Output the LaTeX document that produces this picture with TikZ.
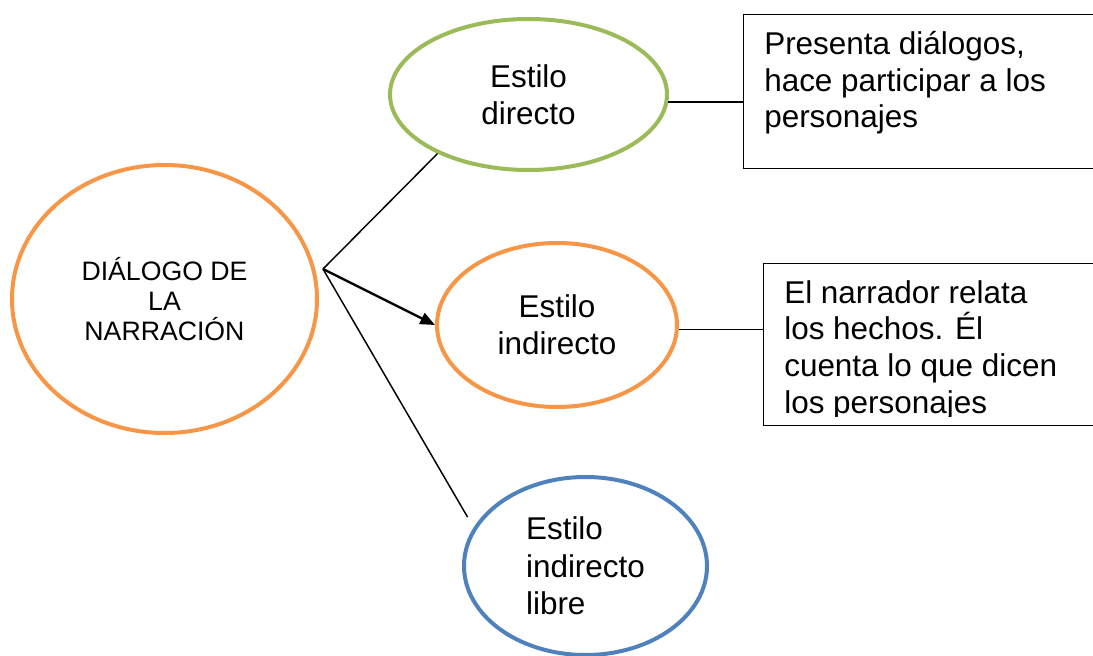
\documentclass[tikz,border=0pt]{standalone}
\usepackage{fontspec}
\setmainfont{Liberation Sans}
\usepackage{tikz}
\usetikzlibrary{shapes.geometric,arrows.meta}
\definecolor{orangeline}{HTML}{F79646}
\definecolor{greenline}{HTML}{9BBB59}
\definecolor{blueline}{HTML}{4F81BD}
\tikzset{
  bubble/.style={ellipse, draw, line width=3pt, inner sep=0pt, align=center, font=\fontsize{23.6}{28}\selectfont},
  card/.style={rectangle, draw=black, line width=1pt, inner sep=0pt, anchor=north west},
  cardtext/.style={inner sep=0pt, anchor=north west, align=left, font=\fontsize{23.6}{27.5}\selectfont},
  link/.style={draw=black, line width=1.1pt},
  lead/.style={draw=black, line width=1.8pt, -{Triangle[length=11pt,width=9pt]}},
}
\begin{document}
\begin{tikzpicture}[x=0.75pt,y=-0.75pt]
\useasboundingbox (0,0) rectangle (1093,656);
\clip (0,0) rectangle (1093,656);
\node[bubble, draw=orangeline, minimum width=305*0.75pt, minimum height=268*0.75pt, font=\fontsize{20}{22.5}\selectfont] (dialogo) at (164.5,299) {DIÁLOGO DE\\LA\\NARRACIÓN};
\node[bubble, draw=greenline, minimum width=277*0.75pt, minimum height=151*0.75pt] (directo) at (528.5,94.5) {Estilo\\directo};
\node[bubble, draw=orangeline, minimum width=240*0.75pt, minimum height=164*0.75pt] (indirecto) at (557,325) {Estilo\\indirecto};
\node[bubble, draw=blueline, align=left, minimum width=243*0.75pt, minimum height=178*0.75pt] (libre) at (585.5,566) {Estilo\\indirecto\\libre};
\node[card, minimum width=370*0.75pt, minimum height=154*0.75pt] (boxdirecto) at (743,14) {};
\node[card, minimum width=350*0.75pt, minimum height=162*0.75pt] (boxindirecto) at (763,263) {};
\node[cardtext] (notadirecto) at ([shift={(21,17)}]boxdirecto.north west) {Presenta diálogos,\\hace participar a los\\personajes};
\begin{scope}
\clip (boxindirecto.north west) rectangle ([yshift=7.5pt]boxindirecto.south east);
\node[cardtext] (notaindirecto) at ([shift={(21,17)}]boxindirecto.north west) {El narrador relata\\los hechos. Él\\cuenta lo que dicen\\los personajes};
\end{scope}
\coordinate (hub) at (323,269);
\draw[link] (hub) -- (directo.213);
\draw[lead] (hub) -- (indirecto.west);
\draw[link, shorten >=9pt] (hub) -- (libre.161);
\draw[link] (directo.357) -- (directo.357 -| boxdirecto.west);
\draw[link] (indirecto.358) -- (indirecto.358 -| boxindirecto.west);
\end{tikzpicture}
\end{document}
